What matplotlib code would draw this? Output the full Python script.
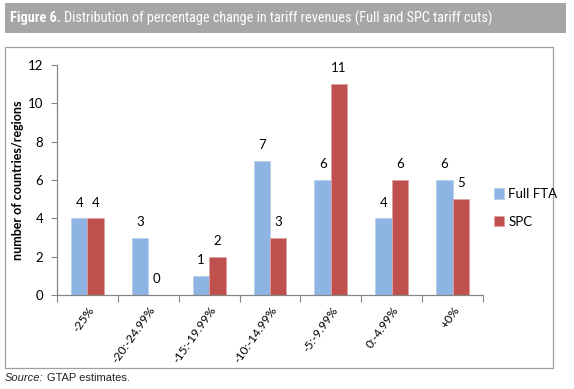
import matplotlib
matplotlib.use("Agg")
import matplotlib.pyplot as plt
from matplotlib.patches import Rectangle
from matplotlib import font_manager
import numpy as np

categories = ["-25%", "-20:-24.99%", "-15:-19.99%", "-10:-14.99%", "-5:-9.99%", "0:-4.99%", "+0%"]
full_fta = [4, 3, 1, 7, 6, 4, 6]
spc = [4, 0, 2, 3, 11, 6, 5]
yticks = [0, 2, 4, 6, 8, 10, 12]

blue = "#8DB4E2"
red = "#C0504D"
axis_col = "#868686"
body_font = ["Lato", "DejaVu Sans"]

names = {f.name for f in font_manager.fontManager.ttflist}
narrow = None
for cand in ["Liberation Sans Narrow", "DejaVu Sans Condensed", "Roboto Condensed", "Open Sans Condensed"]:
    if cand in names:
        narrow = cand
        break
if narrow is None:
    title_font = ["Liberation Sans", "DejaVu Sans"]
    tsize = 9.6
else:
    title_font = [narrow, "DejaVu Sans"]
    tsize = 10.5

fig = plt.figure(figsize=(5.74, 3.89), dpi=100)

# title bar
fig.patches.append(Rectangle((5/574, 1-33/389), 561/574, 30/389, transform=fig.transFigure,
                             facecolor="#A6A6A6", edgecolor="none", zorder=0))
t1 = fig.text(10/574, 1-18/389, "Figure 6.", color="white", fontsize=tsize, fontweight="bold",
              family=title_font, va="center", ha="left")
fig.canvas.draw()
bb = t1.get_window_extent()
t1b = fig.text(bb.x1/574 + 3/574, 1-18/389,
         "Distribution of percentage change in tariff revenues (Full and SPC tariff cuts)",
         color="white", fontsize=tsize, family=title_font, va="center", ha="left")
fig.canvas.draw()
right = t1b.get_window_extent().x1
if right > 500:
    scale = (497 - 10) / (right - 10)
    t1.set_fontsize(tsize * scale)
    fig.canvas.draw()
    bb = t1.get_window_extent()
    t1b.set_fontsize(tsize * scale)
    t1b.set_x(bb.x1/574 + 3/574)

# chart border
fig.patches.append(Rectangle((5/574, 1-368/389), 548/574, 321/389, transform=fig.transFigure,
                             facecolor="none", edgecolor="#A0A0A0", linewidth=0.9, zorder=0))

# source
t2 = fig.text(5/574, 1-378/389, "Source:", fontsize=8, style="italic",
              family=["Liberation Sans", "DejaVu Sans"], va="center", ha="left", color="#222222")
fig.canvas.draw()
bb2 = t2.get_window_extent()
fig.text(bb2.x1/574 + 3/574, 1-378/389, "GTAP estimates.", fontsize=8,
         family=["Liberation Sans", "DejaVu Sans"], va="center", ha="left", color="#222222")

ax = fig.add_axes([57/574, 1-295/389, 426/574, 230/389])
x = np.arange(len(categories))
w = 0.27
b1 = ax.bar(x - w/2, full_fta, w, color=blue, edgecolor="#B8D0EE", linewidth=0.6, label="Full FTA")
b2 = ax.bar(x + w/2, spc, w, color=red, edgecolor="#E0A0A0", linewidth=0.6, label="SPC")

for rects, vals in ((b1, full_fta), (b2, spc)):
    for r, v in zip(rects, vals):
        ax.annotate(str(v), (r.get_x() + r.get_width()/2, v), xytext=(0, 7),
                    textcoords="offset points", ha="center", va="bottom",
                    fontsize=9.5, family=body_font, color="black")

ax.set_xlim(-0.5, len(categories) - 0.5)
ax.set_ylim(0, 12)
ax.set_yticks(yticks)
ax.set_yticklabels([str(v) for v in yticks], fontsize=9.5, family=body_font)
ax.set_xticks(np.arange(len(categories) + 1) - 0.5)
ax.set_xticklabels([])
ax.set_xticks(x, minor=True)
ax.set_xticklabels(categories, minor=True, rotation=55, ha="right", va="top",
                   rotation_mode="anchor", fontsize=8.7, family=body_font)
ax.tick_params(axis="x", which="minor", length=0, pad=7)
ax.tick_params(axis="x", which="major", length=5, color=axis_col, direction="out")
ax.tick_params(axis="y", length=4, color=axis_col, direction="out", pad=6)
for s in ("top", "right"):
    ax.spines[s].set_visible(False)
for s in ("left", "bottom"):
    ax.spines[s].set_color(axis_col)
    ax.spines[s].set_linewidth(0.9)
ax.set_ylabel("number of countries/regions", fontsize=9, fontweight="bold", family=body_font)
ax.yaxis.set_label_coords(-33/426, 0.5)

leg = fig.legend(handles=[b1, b2], labels=["Full FTA", "SPC"], loc="center left",
                 bbox_to_anchor=(482/574, 1-208/389), frameon=False,
                 prop={"family": body_font, "size": 9.5}, handlelength=0.8, handleheight=0.8,
                 handletextpad=0.3, labelspacing=1.2)

fig.savefig("out.png", dpi=100)
